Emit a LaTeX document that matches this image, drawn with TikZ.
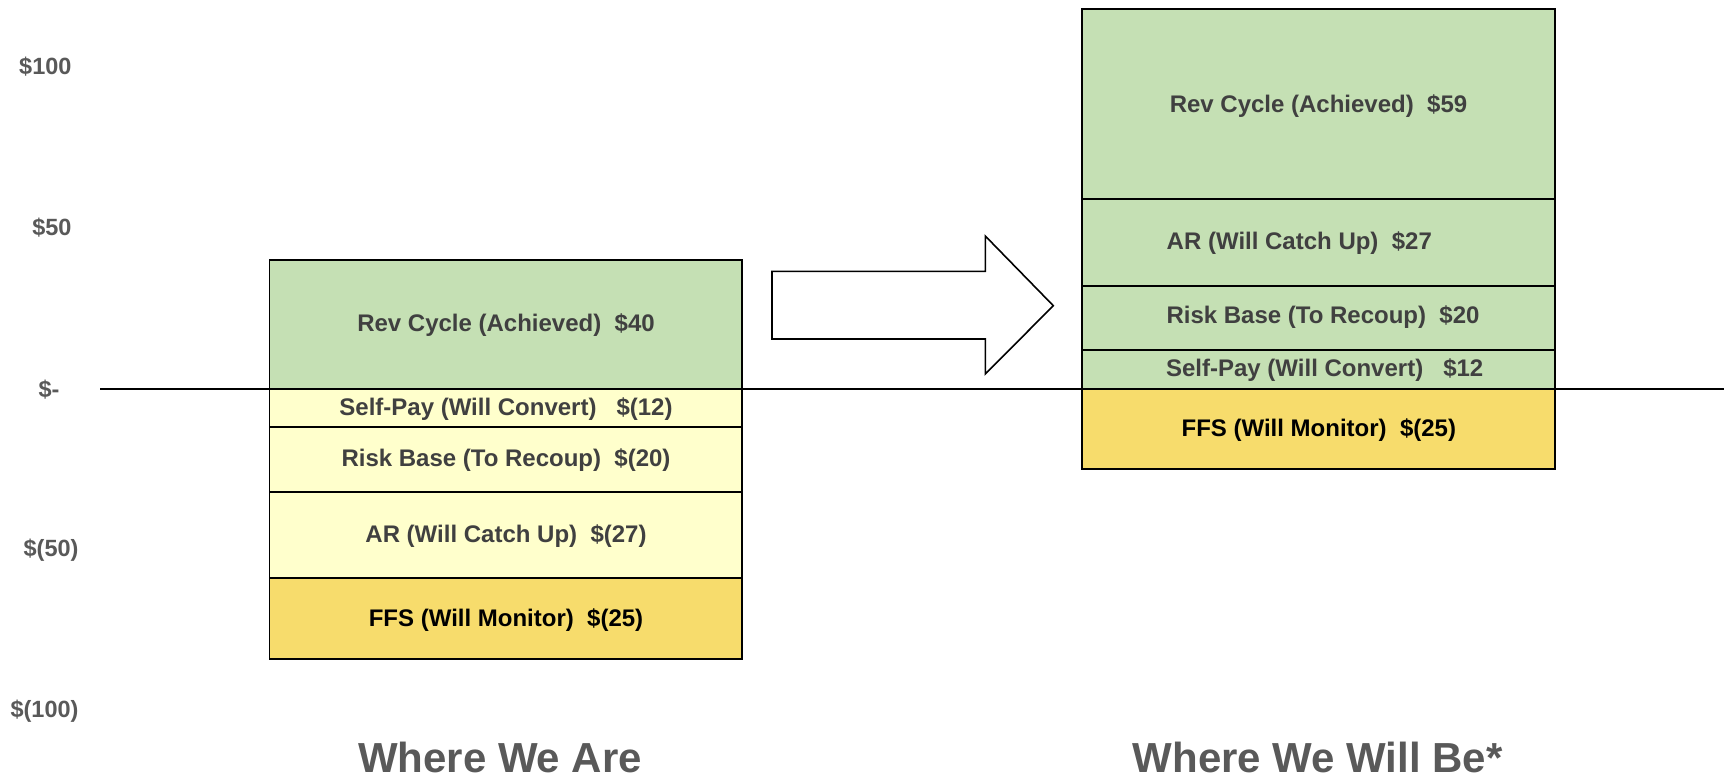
\documentclass[tikz,border=0pt]{standalone}
\usepackage{fontspec}
\setmainfont{Liberation Sans}
\definecolor{grn}{RGB}{197,224,180}
\definecolor{ylw}{RGB}{255,255,204}
\definecolor{gld}{RGB}{247,220,108}
\definecolor{axgray}{RGB}{89,89,89}
\definecolor{lblgray}{RGB}{64,64,64}
\begin{document}
\begin{tikzpicture}[x=1pt,y=-1pt,
  seg/.style={draw=black,line width=1.8pt,rectangle,inner sep=0pt},
  lseg/.style={seg,minimum width=472.5pt},
  rseg/.style={seg,minimum width=473pt},
  lbl/.style={inner sep=0pt,text=lblgray,font=\fontsize{24}{28}\selectfont\bfseries},
  lblk/.style={lbl,text=black},
  axl/.style={inner sep=0pt,text=axgray,font=\fontsize{23.5}{28}\selectfont\bfseries},
  ttl/.style={inner sep=0pt,text=axgray,anchor=base,font=\fontsize{42}{48}\selectfont\bfseries},
  blockarrow/.style={draw=black,line width=1.6pt,fill=white,line join=miter}]
\useasboundingbox (0,0) rectangle (1727,779);
\fill[white] (0,0) rectangle (1727,779);

% left stack
\node[lseg,fill=grn,minimum height=128.7pt] (L1) at (505.75,324.35) {};
\node[lseg,fill=ylw,minimum height=38.6pt] (L2) at (505.75,408) {};
\node[lseg,fill=ylw,minimum height=64.4pt] (L3) at (505.75,459.5) {};
\node[lseg,fill=ylw,minimum height=86.6pt] (L4) at (505.75,535) {};
\node[lseg,fill=gld,minimum height=80.7pt] (L5) at (505.75,618.65) {};

\node[lbl] (tL1) at (506,325) {Rev Cycle (Achieved)\ \ \$40};
\node[lbl] (tL2) at (506,409) {Self-Pay (Will Convert)\ \ \ \$(12)};
\node[lbl] (tL3) at (506,460) {Risk Base (To Recoup)\ \ \$(20)};
\node[lbl] (tL4) at (506,536) {AR (Will Catch Up)\ \ \$(27)};
\node[lblk] (tL5) at (506,620) {FFS (Will Monitor)\ \ \$(25)};

% right stack
\node[rseg,fill=grn,minimum height=190pt] (R1) at (1318.5,104) {};
\node[rseg,fill=grn,minimum height=86.7pt] (R2) at (1318.5,242.35) {};
\node[rseg,fill=grn,minimum height=64.4pt] (R3) at (1318.5,317.9) {};
\node[rseg,fill=grn,minimum height=38.6pt] (R4) at (1318.5,369.4) {};
\node[rseg,fill=gld,minimum height=80.5pt] (R5) at (1318.5,428.95) {};

\node[lbl] (tR1) at (1318.5,105.7) {Rev Cycle (Achieved)\ \ \$59};
\node[lbl] (tR2) at (1299.3,243) {AR (Will Catch Up)\ \ \$27};
\node[lbl] (tR3) at (1323,317) {Risk Base (To Recoup)\ \ \$20};
\node[lbl] (tR4) at (1324.7,370) {Self-Pay (Will Convert)\ \ \ \$12};
\node[lblk] (tR5) at (1318.8,430) {FFS (Will Monitor)\ \ \$(25)};

% zero line
\coordinate (z0) at (100,388.7);
\coordinate (z1) at (1724,388.7);
\draw[line width=1.6pt] (z0) -- (z1);

% block arrow
\draw[blockarrow] (772,271.3) -- (985.3,271.3) -- (985.3,236) -- (1053.3,305.7)
  -- (985.3,374) -- (985.3,339) -- (772,339) -- cycle;

% axis labels
\node[axl,anchor=east] (a100) at (71.7,66.5) {\$100};
\node[axl,anchor=east] (a50) at (71.7,228) {\$50};
\node[axl,anchor=west] (a0) at (38.3,390) {\$-};
\node[axl,anchor=east] (am50) at (78.7,550) {\$(50)};
\node[axl,anchor=east] (am100) at (78.7,711) {\$(100)};

% titles
\node[ttl] (t1) at (500,772) {Where We Are};
\node[ttl] (t2) at (1317.7,772) {Where We Will Be*};
\end{tikzpicture}
\end{document}
